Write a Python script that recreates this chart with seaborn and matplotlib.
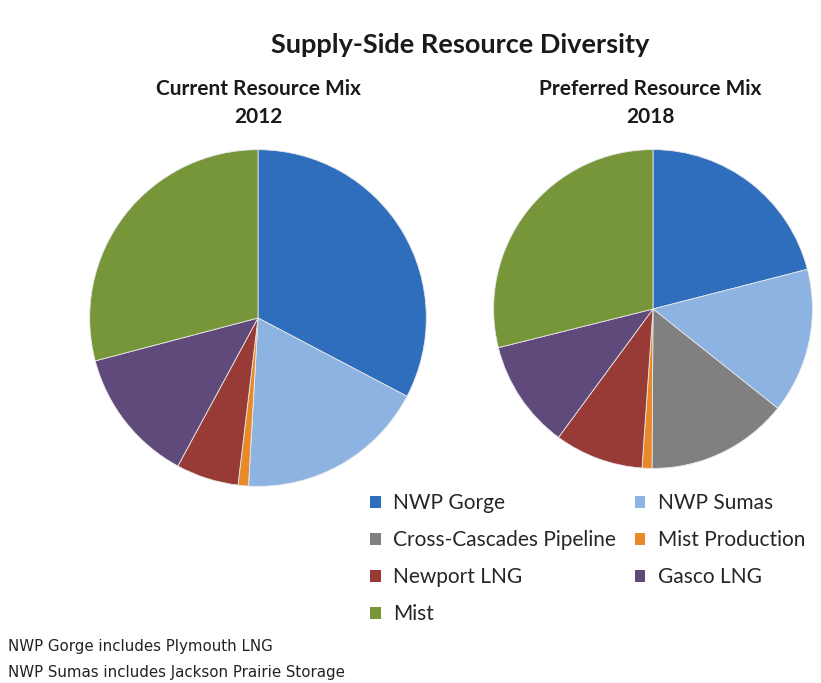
import matplotlib
matplotlib.use("Agg")
import matplotlib.pyplot as plt
from matplotlib.patches import Patch
import seaborn as sns

categories = ["NWP Gorge", "NWP Sumas", "Cross-Cascades Pipeline", "Mist Production",
              "Newport LNG", "Gasco LNG", "Mist"]
mix_2012 = [32.7, 18.2, 0.0, 1.0, 6.0, 13.0, 29.1]
mix_2018 = [21.0, 14.7, 14.4, 1.0, 9.0, 11.0, 28.9]
colors = ["#2F6EBD", "#8DB3E2", "#808080", "#E8892A", "#983A36", "#604A7B", "#77963A"]
title = "Supply-Side Resource Diversity"
sub_left = "Current Resource Mix\n2012"
sub_right = "Preferred Resource Mix\n2018"
notes = ["NWP Gorge includes Plymouth LNG", "NWP Sumas includes Jackson Prairie Storage"]

sns.set_theme(style="white")
plt.rcParams['font.family'] = ['Lato', 'DejaVu Sans']
pal = sns.color_palette(colors)

W, H = 821, 683
fig = plt.figure(figsize=(W / 100, H / 100), dpi=100)
fig.patch.set_facecolor("white")

def add_pie(cx, cy, r, values):
    ax = fig.add_axes([(cx - r) / W, (H - cy - r) / H, 2 * r / W, 2 * r / H])
    vals = [v if v > 0 else 1e-9 for v in values]
    ax.pie(vals, colors=pal, startangle=90, counterclock=False, radius=1,
           wedgeprops=dict(linewidth=0.6, edgecolor="#e8e8e8"))
    ax.set_xlim(-1.01, 1.01)
    ax.set_ylim(-1.01, 1.01)
    ax.set_aspect("equal")
    ax.axis("off")
    return ax

add_pie(258, 318, 170, mix_2012)
add_pie(653, 309, 161, mix_2018)

fig.text(460 / W, 1 - 45 / H, title, ha="center", va="center", fontsize=19.5, fontweight="bold", color="#1a1a1a")
fig.text(258 / W, 1 - 103 / H, sub_left, ha="center", va="center", fontsize=15, fontweight="bold",
         color="#1a1a1a", linespacing=1.45)
fig.text(650 / W, 1 - 103 / H, sub_right, ha="center", va="center", fontsize=15, fontweight="bold",
         color="#1a1a1a", linespacing=1.45)

order = [0, 2, 4, 6, 1, 3, 5]
handles = [Patch(facecolor=pal[i], edgecolor="none", label=categories[i]) for i in order]
fig.legend(handles=handles, ncol=2, loc="upper left", bbox_to_anchor=(360 / W, 1 - 483 / H),
           frameon=False, fontsize=15, handlelength=0.5, handleheight=0.5, handletextpad=0.6,
           labelspacing=0.81, columnspacing=0.9, borderpad=0)

fig.text(8 / W, 1 - 647 / H, notes[0], ha="left", va="center", fontsize=10.8, color="#222222",
         family="DejaVu Sans")
fig.text(8 / W, 1 - 672 / H, notes[1], ha="left", va="center", fontsize=10.8, color="#222222",
         family="DejaVu Sans")

fig.savefig("out.png", dpi=100, facecolor="white")
